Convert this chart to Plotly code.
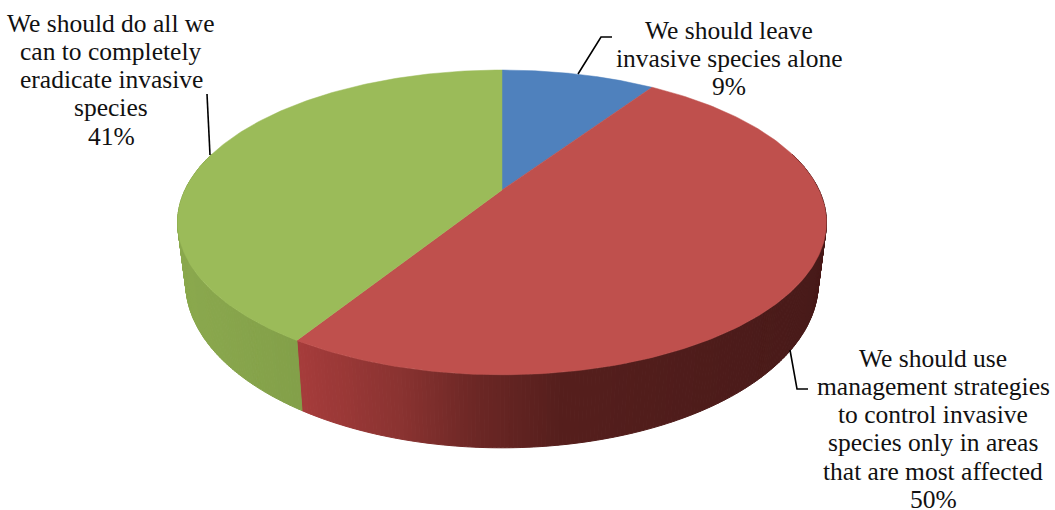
import math
import numpy as np
import plotly.graph_objects as go

# ---- data ----
categories = [
    "We should leave invasive species alone",
    "We should use management strategies to control invasive species only in areas that are most affected",
    "We should do all we can to completely eradicate invasive species",
]
shares = [9.4, 49.5, 41.1]
label_lines = [
    ["We should leave", "invasive species alone", "9%"],
    ["We should use", "management strategies", "to control invasive",
     "species only in areas", "that are most affected", "50%"],
    ["We should do all we", "can to completely", "eradicate invasive", "species", "41%"],
]
label_centers = [(729, 30), (933, 358), (111, 23)]
top_colors = ["#4F81BD", "#BF504D", "#9BBB59"]
side_stops = [
    [(500, "#3a6190"), (830, "#2f4f75")],
    [(303, "#A53C3B"), (400, "#8A3331"), (470, "#6E2826"), (560, "#561F1D"), (830, "#481A19")],
    [(178, "#8BA94E"), (300, "#83A049")],
]
leaders = [
    ([578, 601, 612], [74, 37, 37]),
    ([790, 797, 808], [350, 389, 389]),
    ([210, 207], [155, 94]),
]

# ---- projection of the tilted disc ----
CX, CY, RX, RY, K, DEPTH, SHRINK = 502, 190, 317, 145.5, 0.2126, 57.5, 0.975


def project(theta, lower=False):
    s, c = np.sin(theta), np.cos(theta)
    w = 1 + K * c
    x = CX + RX * s / w
    y = CY - RY * c / w
    if lower:
        x = CX + (x - CX) * SHRINK
        y = y + DEPTH / w
    return x, y


def hex_rgb(h):
    return tuple(int(h[i:i + 2], 16) for i in (1, 3, 5))


def side_color(stops, x):
    xs = [p[0] for p in stops]
    ch = [np.interp(x, xs, [hex_rgb(p[1])[i] for p in stops]) for i in range(3)]
    return "rgb(%d,%d,%d)" % tuple(ch)


edges = np.cumsum([0] + shares) / sum(shares) * 2 * math.pi
fig = go.Figure()

# sides, visible front part only
for i in range(len(shares)):
    lo, hi = max(edges[i], math.radians(75)), min(edges[i + 1], math.radians(285))
    if hi <= lo:
        continue
    n = max(2, int(math.degrees(hi - lo) / 0.6))
    ts = np.linspace(lo, hi, n + 1)
    for a, b in zip(ts[:-1], ts[1:]):
        xa, ya = project(a)
        xb, yb = project(b)
        xc, yc = project(b, True)
        xd, yd = project(a, True)
        col = side_color(side_stops[i], (xa + xb) / 2)
        fig.add_trace(go.Scatter(
            x=[xa, xb, xc, xd, xa], y=[ya, yb, yc, yd, ya], mode="lines",
            fill="toself", fillcolor=col, line=dict(color=col, width=1),
            hoverinfo="skip", showlegend=False))

# top faces
for i in range(len(shares)):
    ts = np.linspace(edges[i], edges[i + 1], 200)
    xs, ys = project(ts)
    fig.add_trace(go.Scatter(
        x=[CX, *xs, CX], y=[CY, *ys, CY], mode="lines", fill="toself",
        fillcolor=top_colors[i], line=dict(color=top_colors[i], width=0.5),
        name=categories[i], showlegend=False))

# leader lines
for lx, ly in leaders:
    fig.add_trace(go.Scatter(x=lx, y=ly, mode="lines", line=dict(color="#000000", width=1.6),
                             hoverinfo="skip", showlegend=False))

# labels
LINE_H = 28.3
for lines, (cx, y0) in zip(label_lines, label_centers):
    for j, t in enumerate(lines):
        fig.add_annotation(x=cx, y=y0 + j * LINE_H, text=t, showarrow=False, xanchor="center",
                           yanchor="middle", font=dict(family="Liberation Serif", size=25.5, color="#111111"))

fig.update_layout(
    width=1055, height=510, margin=dict(l=0, r=0, t=0, b=0),
    paper_bgcolor="white", plot_bgcolor="white",
    xaxis=dict(range=[0, 1055], visible=False, fixedrange=True),
    yaxis=dict(range=[510, 0], visible=False, fixedrange=True),
)
fig.write_html("out.html", config={"displayModeBar": False},
               post_script="document.body.style.margin='0';document.documentElement.style.overflow='hidden';")
